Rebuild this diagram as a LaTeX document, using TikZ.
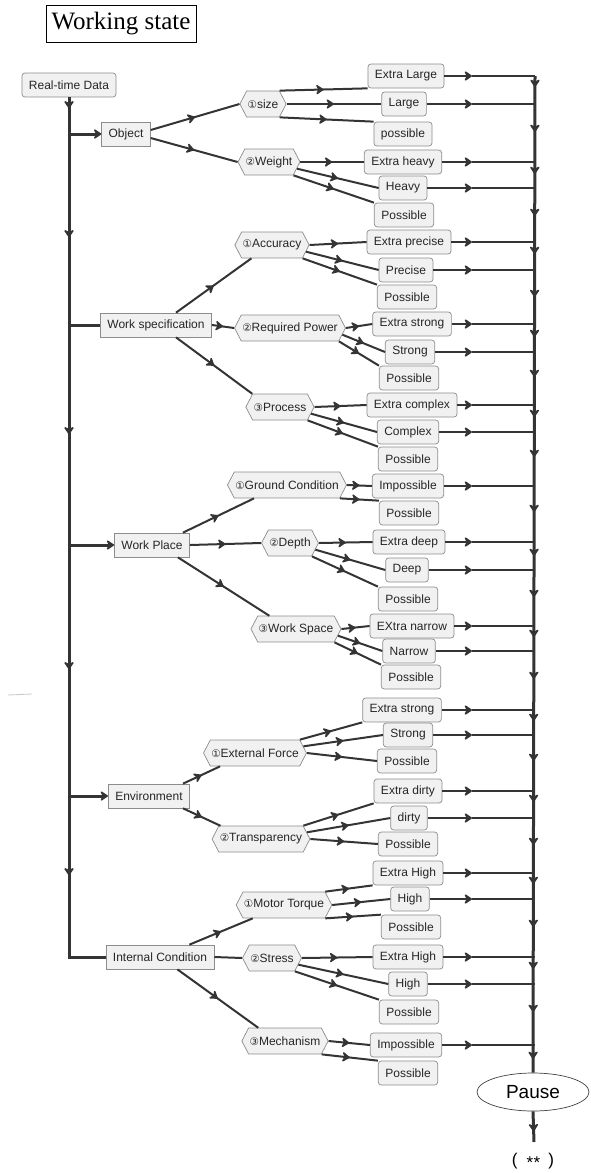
\documentclass[tikz,border=0pt]{standalone}
\usepackage{fontspec}
\setmainfont{Liberation Sans}
\newfontfamily\titleface{Liberation Serif}
\newfontfamily\symface{DejaVu Sans}
\usetikzlibrary{arrows.meta,shapes.symbols,shapes.geometric,decorations.markings,calc}

\definecolor{ink}{HTML}{343434}
\definecolor{frame}{HTML}{8C8C8C}
\definecolor{paper}{HTML}{F1F1F1}
\newcommand{\cnum}[1]{{\symface\fontsize{10.5}{12}\selectfont#1}}

\tikzset{
  barb/.tip={Stealth[length=9pt,width=12pt,inset=3pt,round]},
  lbl/.style={font=\fontsize{12}{14}\selectfont, text=black!85},
  catbox/.style={lbl, draw=frame, fill=paper, line width=0.7pt, inner xsep=7pt, minimum height=24pt},
  leafbox/.style={catbox, rounded corners=3pt},
  hexbox/.style={lbl, draw=frame, fill=paper, line width=0.7pt, shape=signal,
    signal to=west and east, signal pointer angle=125, inner xsep=1pt, minimum height=26pt},
  link/.style={color=ink, line width=2pt},
  feed/.style={color=ink, line width=2.4pt},
  spine/.style={color=ink, line width=3pt},
  midarrow/.style={postaction={decorate}, decoration={markings,
    mark=at position 0.5 with {\arrow{barb}}}},
  trunkmarks/.style={postaction={decorate}, decoration={markings,
    mark=at position 11pt with {\arrow{barb}},
    mark=at position 140pt with {\arrow{barb}},
    mark=at position 337pt with {\arrow{barb}},
    mark=at position 572pt with {\arrow{barb}},
    mark=at position 778pt with {\arrow{barb}}}},
  busmarks/.style={postaction={decorate}, decoration={markings,
    mark=at position 11pt with {\arrow{barb}},
    mark=at position 56pt with {\arrow{barb}},
    mark=at position 98pt with {\arrow{barb}},
    mark=at position 140pt with {\arrow{barb}},
    mark=at position 178pt with {\arrow{barb}},
    mark=at position 221pt with {\arrow{barb}},
    mark=at position 261pt with {\arrow{barb}},
    mark=at position 301pt with {\arrow{barb}},
    mark=at position 341pt with {\arrow{barb}},
    mark=at position 381pt with {\arrow{barb}},
    mark=at position 436pt with {\arrow{barb}},
    mark=at position 480pt with {\arrow{barb}},
    mark=at position 521pt with {\arrow{barb}},
    mark=at position 561pt with {\arrow{barb}},
    mark=at position 603pt with {\arrow{barb}},
    mark=at position 645pt with {\arrow{barb}},
    mark=at position 685pt with {\arrow{barb}},
    mark=at position 726pt with {\arrow{barb}},
    mark=at position 769pt with {\arrow{barb}},
    mark=at position 808pt with {\arrow{barb}},
    mark=at position 851pt with {\arrow{barb}},
    mark=at position 893pt with {\arrow{barb}},
    mark=at position 936pt with {\arrow{barb}},
    mark=at position 983pt with {\arrow{barb}}}},
}

% leaf -> collecting bus, arrowhead at a common column
\newcommand{\tobus}[1]{%
  \draw[feed,-barb] (#1.east) -- (#1.east -| ax);
  \draw[feed] (#1.east -| ax) -- (#1.east -| bus);}

\begin{document}
\begin{tikzpicture}[x=1pt,y=-1pt]
\useasboundingbox (0,0) rectangle (590,1173);

\coordinate (ax) at (472,0);
\coordinate (bus) at (535,0);

% title
\node[draw=black, line width=0.9pt, minimum width=150pt, minimum height=37pt, inner sep=0pt,
      font=\titleface\fontsize{25}{27}\selectfont] (title) at (121,23.5) {Working state};

% source and categories
\node[leafbox] (rt) at (69,85) {Real-time Data};
\node[catbox] (obj) at (126,134) {Object};
\node[catbox] (ws) at (156,325) {Work specification};
\node[catbox] (wp) at (152,545) {Work Place};
\node[catbox] (env) at (149,796) {Environment};
\node[catbox] (ic) at (160,957) {Internal Condition};

% factors
\node[hexbox] (size) at (263,104) {\cnum{①}size};
\node[hexbox] (weight) at (269,162) {\cnum{②}Weight};
\node[hexbox] (acc) at (272,245) {\cnum{①}Accuracy};
\node[hexbox] (rp) at (290,328) {\cnum{②}Required Power};
\node[hexbox] (proc) at (280,407) {\cnum{③}Process};
\node[hexbox] (gc) at (287,485) {\cnum{①}Ground Condition};
\node[hexbox] (dep) at (290,543) {\cnum{②}Depth};
\node[hexbox] (wsp) at (296,629) {\cnum{③}Work Space};
\node[hexbox] (ef) at (255,753) {\cnum{①}External Force};
\node[hexbox] (tr) at (261,839) {\cnum{②}Transparency};
\node[hexbox] (mt) at (284,905) {\cnum{①}Motor Torque};
\node[hexbox] (st) at (272,958) {\cnum{②}Stress};
\node[hexbox] (mech) at (285,1041) {\cnum{③}Mechanism};

% levels
\node[leafbox] (xl) at (406,76) {Extra Large};
\node[leafbox] (lg) at (404,104) {Large};
\node[leafbox] (p1) at (403,134) {possible};
\node[leafbox] (xh) at (403,162) {Extra heavy};
\node[leafbox] (hv) at (403,188) {Heavy};
\node[leafbox] (p2) at (404,215) {Possible};
\node[leafbox] (xp) at (409,242) {Extra precise};
\node[leafbox] (pr) at (406,270) {Precise};
\node[leafbox] (p3) at (407,297) {Possible};
\node[leafbox] (xs1) at (412,324) {Extra strong};
\node[leafbox] (sg1) at (410,352) {Strong};
\node[leafbox] (p4) at (409,378) {Possible};
\node[leafbox] (xc) at (412,405) {Extra complex};
\node[leafbox] (cx) at (408,432) {Complex};
\node[leafbox] (p5) at (408,459) {Possible};
\node[leafbox] (im1) at (408,486) {Impossible};
\node[leafbox] (p6) at (409,513) {Possible};
\node[leafbox] (xd) at (409,542) {Extra deep};
\node[leafbox] (dp) at (407,570) {Deep};
\node[leafbox] (p7) at (408,599) {Possible};
\node[leafbox] (xn) at (412,626) {EXtra narrow};
\node[leafbox] (nw) at (409,651) {Narrow};
\node[leafbox] (p8) at (411,677) {Possible};
\node[leafbox] (xs2) at (402,710) {Extra strong};
\node[leafbox] (sg2) at (408,735) {Strong};
\node[leafbox] (p9) at (407,761) {Possible};
\node[leafbox] (xdt) at (408,791) {Extra dirty};
\node[leafbox] (dt) at (409,818) {dirty};
\node[leafbox] (p10) at (408,844) {Possible};
\node[leafbox] (xh1) at (408,873) {Extra High};
\node[leafbox] (hi1) at (410,899) {High};
\node[leafbox] (p11) at (411,927) {Possible};
\node[leafbox] (xh2) at (408,957) {Extra High};
\node[leafbox] (hi2) at (408,984) {High};
\node[leafbox] (p12) at (409,1012) {Possible};
\node[leafbox] (im2) at (406,1045) {Impossible};
\node[leafbox] (p13) at (408,1073) {Possible};

\node[ellipse, draw=black!75, line width=0.7pt, minimum width=112pt, minimum height=38pt,
      inner sep=0pt, font=\fontsize{19}{21}\selectfont] (pause) at (533,1092) {Pause};
\coordinate (tail) at (534,1142);
\node[font=\fontsize{17}{19}\selectfont] (note) at (533,1161)
      {(\hspace{9pt}\raisebox{-3pt}{*\hspace{0.5pt}*}\hspace{8pt})};

% main trunk
\draw[spine,trunkmarks] (rt.south) -- (rt.south |- ic.west) -- (ic.west);
\draw[spine,-barb] (rt.south |- obj.west) -- (obj.west);
\draw[spine] (rt.south |- ws.west) -- (ws.west);
\draw[spine,-barb] (rt.south |- wp.west) -- (wp.west);
\draw[spine,-barb] (rt.south |- env.west) -- (env.west);

% categories to factors
\draw[link,midarrow] ([yshift=4pt]obj.east) -- (size.west);
\draw[link,midarrow] ([yshift=-4pt]obj.east) -- (weight.west);
\draw[link,midarrow] ([xshift=20pt]ws.north) -- ([xshift=10pt]acc.south west);
\draw[link,midarrow] (ws.east) -- (rp.west);
\draw[link,midarrow] ([xshift=20pt]ws.south) -- (proc.north west);
\draw[link,midarrow] ([xshift=-7pt]wp.north east) -- ([xshift=20pt]gc.south west);
\draw[link,midarrow] (wp.east) -- (dep.west);
\draw[link,midarrow] ([xshift=-12pt]wp.south east) -- ([xshift=12pt]wsp.north west);
\draw[link,midarrow] ([xshift=-7pt]env.north east) -- ([xshift=10pt]ef.south west);
\draw[link,midarrow] ([xshift=-7pt]env.south east) -- ([xshift=2pt]tr.north west);
\draw[link,midarrow] ([xshift=-25pt]ic.north east) -- ([xshift=10pt]mt.south west);
\draw[link] (ic.east) -- (st.west);
\draw[link,midarrow] ([xshift=-37pt]ic.south east) -- ([xshift=10pt]mech.north west);

% factors to levels
\draw[link,midarrow] (size.north east) -- (xl.south west);
\draw[link,midarrow] (size.east) -- (lg.west);
\draw[link,midarrow] (size.south east) -- (p1.north west);

\draw[link,midarrow] (weight.east) -- (xh.west);
\draw[link,midarrow] ($(weight.east)!.5!(weight.south east)$) -- (hv.west);
\draw[link,midarrow] (weight.south east) -- (p2.north west);

\draw[link,midarrow] (acc.east) -- (xp.west);
\draw[link,midarrow] ($(acc.east)!.5!(acc.south east)$) -- (pr.west);
\draw[link,midarrow] (acc.south east) -- (p3.north west);

\draw[link,midarrow] (rp.east) -- (xs1.west);
\draw[link,midarrow] ($(rp.east)!.5!(rp.south east)$) -- (sg1.west);
\draw[link,midarrow] (rp.south east) -- (p4.north west);

\draw[link,midarrow] (proc.east) -- (xc.west);
\draw[link,midarrow] ($(proc.east)!.5!(proc.south east)$) -- (cx.west);
\draw[link,midarrow] (proc.south east) -- (p5.north west);

\draw[link,midarrow] (gc.east) -- (im1.west);
\draw[link,midarrow] (gc.south east) -- (p6.north west);

\draw[link,midarrow] (dep.east) -- (xd.west);
\draw[link,midarrow] ($(dep.east)!.5!(dep.south east)$) -- (dp.west);
\draw[link,midarrow] (dep.south east) -- (p7.north west);

\draw[link,midarrow] (wsp.east) -- (xn.west);
\draw[link,midarrow] ($(wsp.east)!.5!(wsp.south east)$) -- (nw.west);
\draw[link,midarrow] (wsp.south east) -- (p8.north west);

\draw[link,midarrow] (ef.north east) -- (xs2.south west);
\draw[link,midarrow] ($(ef.east)!.5!(ef.north east)$) -- (sg2.west);
\draw[link,midarrow] (ef.east) -- (p9.west);

\draw[link,midarrow] (tr.north east) -- (xdt.south west);
\draw[link,midarrow] ($(tr.east)!.5!(tr.north east)$) -- (dt.west);
\draw[link,midarrow] (tr.east) -- (p10.west);

\draw[link,midarrow] (mt.north east) -- (xh1.south west);
\draw[link,midarrow] (mt.east) -- (hi1.west);
\draw[link,midarrow] (mt.south east) -- (p11.north west);

\draw[link,midarrow] (st.east) -- (xh2.west);
\draw[link,midarrow] ($(st.east)!.5!(st.south east)$) -- (hi2.west);
\draw[link,midarrow] (st.south east) -- (p12.north west);

\draw[link,midarrow] (mech.east) -- (im2.west);
\draw[link,midarrow] (mech.south east) -- (p13.north west);

% levels to the collecting bus
\tobus{xl} \tobus{lg} \tobus{xh} \tobus{hv} \tobus{xp} \tobus{pr}
\tobus{xs1} \tobus{sg1} \tobus{xc} \tobus{cx} \tobus{im1} \tobus{xd}
\tobus{dp} \tobus{xn} \tobus{nw} \tobus{xs2} \tobus{sg2} \tobus{xdt}
\tobus{dt} \tobus{xh1} \tobus{hi1} \tobus{xh2} \tobus{hi2} \tobus{im2}

\draw[spine,busmarks] (xl.east -| bus) -- (pause.north);
\draw[spine,postaction={decorate},decoration={markings,
      mark=at position 20pt with {\arrow{barb}}}] (pause.south) -- (tail);

% stray scan mark at the left edge
\draw[black!22, line width=0.8pt] (8,695) -- (32,694);
\end{tikzpicture}
\end{document}
